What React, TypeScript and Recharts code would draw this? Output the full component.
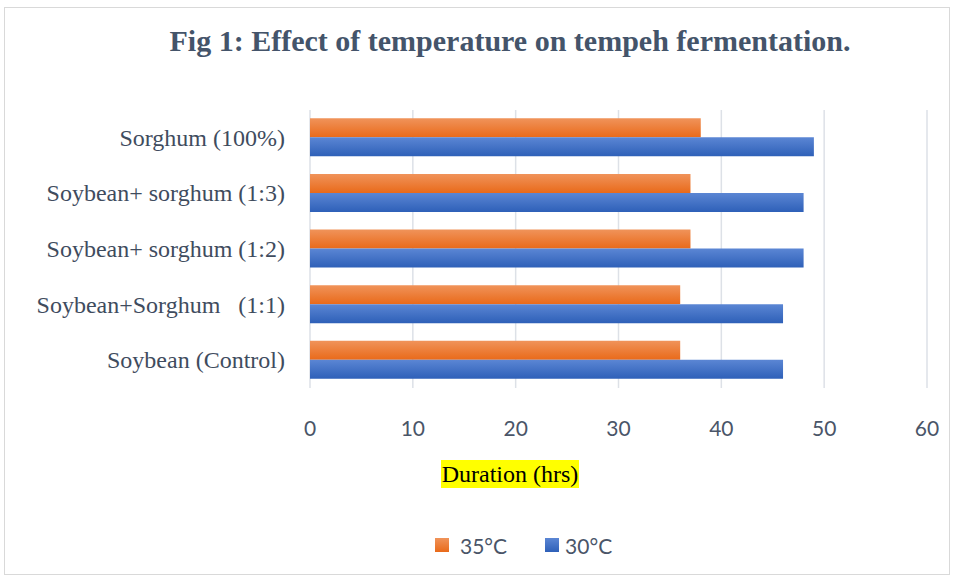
import { Bar, BarChart, CartesianGrid, Legend, XAxis, YAxis } from "recharts";

const categories = [
  "Sorghum (100%)",
  "Soybean+ sorghum (1:3)",
  "Soybean+ sorghum (1:2)",
  "Soybean+Sorghum   (1:1)",
  "Soybean (Control)",
];
const temp35 = [38, 37, 37, 36, 36];
const temp30 = [49, 48, 48, 46, 46];
const xTicks = [0, 10, 20, 30, 40, 50, 60];

const data = categories.map((name, i) => ({ name, t35: temp35[i], t30: temp30[i] }));

const serif = "'Liberation Serif', 'Times New Roman', serif";
const sans = "Lato, 'Open Sans', sans-serif";

function CategoryTick({ x, y, payload }: any) {
  return (
    <text x={x} y={y} dy={8} textAnchor="end" fill="#3f4c5e" fontFamily={serif} fontSize={24} style={{ whiteSpace: "pre" }}>
      {payload.value}
    </text>
  );
}

function DurationLabel({ viewBox }: any) {
  const cx = viewBox.x + 200;
  const cy = viewBox.y + 86;
  return (
    <g>
      <rect x={cx - 69} y={cy - 14} width={138} height={28} fill="#ffff00" />
      <text x={cx} y={cy + 8} textAnchor="middle" fill="#000" fontFamily={serif} fontSize={24}>
        Duration (hrs)
      </text>
    </g>
  );
}

function LegendContent() {
  const item = (color: string, label: string, gap: number) => (
    <span style={{ display: "flex", alignItems: "center" }}>
      <span style={{ width: 14, height: 14, background: color, marginRight: gap }} />
      <span>{label}</span>
    </span>
  );
  return (
    <div style={{ display: "flex", alignItems: "center", marginLeft: 435, gap: 38, fontFamily: sans, fontSize: 21, color: "#4a5568", height: 30 }}>
      {item("linear-gradient(#f0935a, #e96a1a)", "35°C", 11)}
      {item("linear-gradient(#5b86d4, #2e60b8)", "30°C", 6)}
    </div>
  );
}

export default function App() {
  return (
    <div style={{ position: "absolute", left: 0, top: 0, width: 955, height: 578, background: "#fff" }}>
      <div style={{ position: "absolute", left: 4, top: 7, width: 944, height: 566, border: "1px solid #d9d9d9" }} />
      <div
        style={{
          position: "absolute",
          left: 110,
          top: 24,
          width: 800,
          textAlign: "center",
          fontFamily: serif,
          fontWeight: "bold",
          fontSize: 30,
          color: "#44546a",
          whiteSpace: "nowrap",
        }}
      >
        Fig 1: Effect of temperature on tempeh fermentation.
      </div>
      <div style={{ position: "absolute", left: 0, top: 0 }}>
        <BarChart
          width={955}
          height={578}
          data={data}
          layout="vertical"
          margin={{ top: 110, right: 28, left: 0, bottom: 18 }}
          barCategoryGap="15%"
          barGap={0}
        >
          <defs>
            <linearGradient id="gOrange" x1="0" y1="0" x2="0" y2="1">
              <stop offset="0%" stopColor="#f0935a" />
              <stop offset="100%" stopColor="#e96a1a" />
            </linearGradient>
            <linearGradient id="gBlue" x1="0" y1="0" x2="0" y2="1">
              <stop offset="0%" stopColor="#5b86d4" />
              <stop offset="100%" stopColor="#2e60b8" />
            </linearGradient>
          </defs>
          <CartesianGrid horizontal={false} stroke="#dde1e7" strokeWidth={1.5} />
          <XAxis
            type="number"
            domain={[0, 60]}
            ticks={xTicks}
            axisLine={false}
            tickLine={false}
            tickSize={0}
            tickMargin={33}
            height={142}
            tick={{ fill: "#4a5568", fontFamily: sans, fontSize: 21 }}
            label={{ content: (props: any) => <DurationLabel {...props} /> }}
          />
          <YAxis
            type="category"
            dataKey="name"
            width={310}
            axisLine={false}
            tickLine={false}
            tickSize={0}
            tickMargin={25}
            tick={<CategoryTick />}
            interval={0}
          />
          <Legend
            verticalAlign="bottom"
            wrapperStyle={{ left: 0, width: 955, bottom: 18, height: 30 }}
            content={() => <LegendContent />}
          />
          <Bar dataKey="t35" name="35°C" fill="url(#gOrange)" isAnimationActive={false} />
          <Bar dataKey="t30" name="30°C" fill="url(#gBlue)" isAnimationActive={false} />
        </BarChart>
      </div>
    </div>
  );
}
